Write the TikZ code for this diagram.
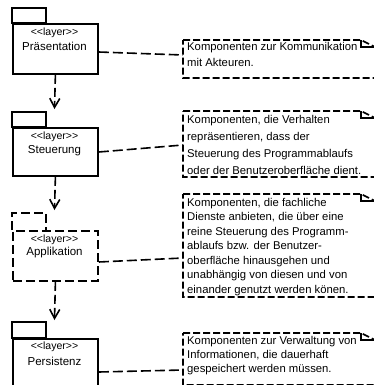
\documentclass[tikz,border=0pt]{standalone}
\usepackage{fontspec}
\setmainfont{Liberation Sans}
\usetikzlibrary{arrows.meta}
\tikzset{
  pkgline/.style={line width=1.8bp, line join=miter},
  pkgdash/.style={pkgline, dash pattern=on 9bp off 4bp},
  body/.style={pkgline, draw, rectangle, minimum width=85bp, inner sep=0pt, anchor=north west},
  stereo/.style={font=\fontsize{10.5bp}{12bp}\selectfont, inner sep=0pt},
  pname/.style={font=\fontsize{11.5bp}{13bp}\selectfont, inner sep=0pt},
  notetext/.style={inner sep=0pt, anchor=north west, align=left},
  noteline/.style={line width=1.6bp, dash pattern=on 7bp off 3bp},
  conn/.style={line width=1.6bp, dash pattern=on 10bp off 4bp},
  dep/.style={line width=1.6bp, dash pattern=on 9bp off 4bp, -{Straight Barb[length=9bp,width=10bp,line width=1.6bp]}},
  fold/.style={line width=1.4bp}
}
\newcommand{\lay}{{<}{<}layer{>}{>}}
\begin{document}
\begin{tikzpicture}[x=1bp,y=-1bp]
\useasboundingbox (0,0) rectangle (374,385);
\clip (0,0) rectangle (374,385);

% packages
\node[body, minimum height=50bp] (p1) at (12,23) {};
\draw[pkgline] (p1.north west) rectangle ++(34,-15);
\node[stereo] (p1s) at (54.5,33) {\lay};
\node[pname] (p1n) at (54.5,46) {Präsentation};

\node[body, minimum height=48bp] (p2) at (12,127) {};
\draw[pkgline] (p2.north west) rectangle ++(34,-15);
\node[stereo] (p2s) at (54.5,137) {\lay};
\node[pname] (p2n) at (54.5,151) {Steuerung};

\node[body, pkgdash, minimum height=50bp] (p3) at (12,230) {};
\draw[pkgdash] (p3.north west) -- ++(0,-17) -- ++(34,0) -- ++(0,17);
\node[stereo] (p3s) at (54.5,240) {\lay};
\node[pname] (p3n) at (54.5,253) {Applikation};

\node[body, minimum height=60bp] (p4) at (12,338) {};
\draw[pkgline] (p4.north west) rectangle ++(34,-16);
\node[stereo] (p4s) at (54.5,347) {\lay};
\node[pname] (p4n) at (54.5,361) {Persistenz};

% dependencies
\coordinate (t2) at (54.5,109);
\coordinate (t3) at (54.5,210);
\coordinate (t4) at (54.5,320);
\draw[dep] (p1.south) -- (t2);
\draw[dep] (p2.south) -- (t3);
\draw[dep] (p3.south) -- (t4);

% notes
\draw[noteline] (183,40) -- (361,40) -- (375,47) -- (375,78) -- (183,78) -- cycle;
\draw[fold] (361,40) -- (361,47) -- (375,47);
\node[notetext, font=\fontsize{11.3bp}{16bp}\selectfont] (n1t) at (187,42) {Komponenten zur Kommunikation\\mit Akteuren.};
\coordinate (n1) at (183,55);

\draw[noteline] (183,111) -- (361,111) -- (375,118) -- (375,177) -- (183,177) -- cycle;
\draw[fold] (361,111) -- (361,118) -- (375,118);
\node[notetext, font=\fontsize{11.3bp}{17bp}\selectfont] (n2t) at (187,115) {Komponenten, die Verhalten\\repräsentieren, dass der\\Steuerung des Programmablaufs\\oder der Benutzeroberfläche dient.};
\coordinate (n2) at (183,145);

\draw[noteline] (183,194) -- (361,194) -- (375,201) -- (375,297) -- (183,297) -- cycle;
\draw[fold] (361,194) -- (361,201) -- (375,201);
\node[notetext, font=\fontsize{11.3bp}{14.5bp}\selectfont] (n3t) at (187,198) {Komponenten, die fachliche\\Dienste anbieten, die über eine\\reine Steuerung des Programm-\\ablaufs bzw. der Benutzer-\\oberfläche hinausgehen und\\unabhängig von diesen und von\\einander genutzt werden könen.};
\coordinate (n3) at (183,258);

\draw[noteline] (183,333) -- (361,333) -- (375,340) -- (375,385) -- (183,385) -- cycle;
\draw[fold] (361,333) -- (361,340) -- (375,340);
\node[notetext, font=\fontsize{11.3bp}{14bp}\selectfont] (n4t) at (187,336) {Komponenten zur Verwaltung von\\Informationen, die dauerhaft\\gespeichert werden müssen.};
\coordinate (n4) at (183,370);

% connectors
\draw[conn] ([yshift=-29bp]p1.north east) -- (n1);
\draw[conn] ([yshift=-25bp]p2.north east) -- (n2);
\draw[conn] ([yshift=-32bp]p3.north east) -- (n3);
\draw[conn] ([yshift=-34bp]p4.north east) -- (n4);
\end{tikzpicture}
\end{document}
